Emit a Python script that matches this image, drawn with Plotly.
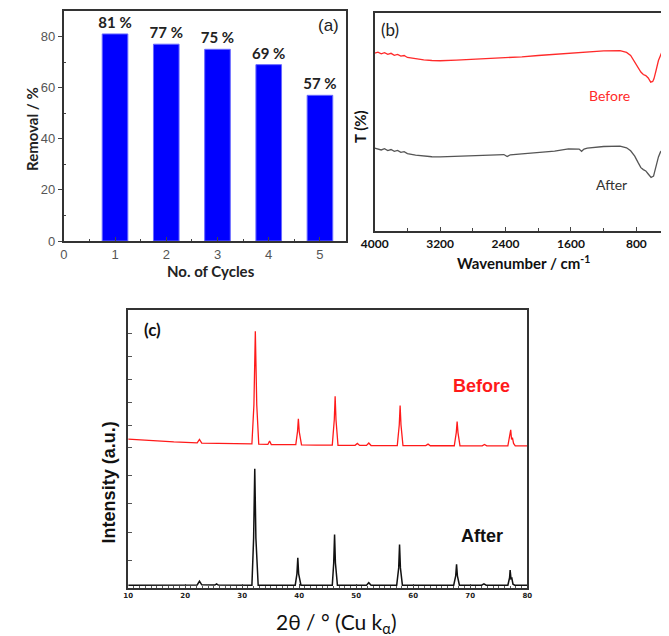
import plotly.graph_objects as go

# (a) recycling
cycles = [1, 2, 3, 4, 5]
removal = [81, 77, 75, 69, 57]

# (b) FTIR, wavenumber / T (%)
ftir_w_before = [4000, 3960, 3920, 3880, 3840, 3800, 3760, 3720, 3680, 3640, 3600, 3500, 3400, 3300, 3200,
                 3000, 2800, 2600, 2400, 2200, 2000, 1800, 1600, 1400, 1200, 1000, 920, 870, 820, 780, 745,
                 715, 685, 655, 625, 600, 585, 560, 530, 505, 490, 480, 470, 460, 450, 440, 425, 410, 400]
ftir_t_before = [81.6, 82.0, 81.3, 81.8, 81.0, 81.5, 80.6, 81.0, 80.2, 80.5, 79.6, 78.9, 78.5, 78.2, 78.1,
                 78.4, 78.7, 79.1, 79.3, 79.9, 80.5, 81.0, 81.4, 82.0, 82.6, 82.7, 81.9, 80.5, 77.4, 75.0, 72.9,
                 71.8, 71.3, 70.2, 68.3, 68.6, 69.8, 73.5, 78.2, 80.5, 81.9, 81.0, 76.0, 73.5, 72.0, 71.5, 68.5, 66.0, 66.5]
ftir_w_after = [4000, 3960, 3920, 3880, 3840, 3800, 3760, 3720, 3680, 3640, 3600, 3500, 3400, 3300, 3200,
                3000, 2800, 2600, 2420, 2380, 2340, 2200, 2000, 1800, 1630, 1500, 1470, 1440, 1400, 1200, 1000,
                920, 870, 820, 780, 745, 715, 685, 655, 620, 590, 560, 530, 505, 490, 475, 460, 445, 430, 415, 400]
ftir_t_after = [38.1, 37.6, 37.2, 37.8, 36.9, 37.4, 36.6, 37.0, 36.1, 36.4, 35.5, 34.8, 34.4, 34.1, 34.0,
                34.3, 34.5, 34.8, 35.1, 34.2, 35.0, 35.4, 36.0, 36.7, 37.7, 37.6, 36.6, 37.6, 38.0, 38.8, 39.0,
                38.2, 36.8, 34.4, 31.5, 29.1, 28.2, 27.6, 26.2, 24.6, 25.2, 29.9, 34.0, 36.3, 36.9, 35.5, 32.0, 30.0, 27.5, 24.0, 24.5]

# (c) XRD, 2theta / intensity (a.u.)
xrd_x_before = [10, 14, 18, 22.1, 22.5, 22.9, 26, 30, 31.7, 32.05, 32.3, 32.55, 32.9, 34.5, 34.8, 35.1,
                39.4, 39.7, 39.85, 40.0, 40.4, 43.0, 45.8, 46.15, 46.3, 46.45, 46.8, 49.8, 50.2, 50.6,
                51.8, 52.2, 52.6, 57.2, 57.55, 57.7, 57.85, 58.2, 62.2, 62.6, 63.0, 67.2, 67.55, 67.7,
                67.85, 68.2, 72.1, 72.5, 72.9, 76.6, 76.95, 77.1, 77.25, 77.4, 77.6, 77.9, 80]
xrd_y_before = [150.3, 148.8, 147.5, 146.6, 150.0, 146.4, 145.9, 145.4, 145.5, 185.0, 259.7, 185.0, 145.3, 145.0, 148.5, 144.9,
                144.8, 158.0, 171.0, 158.0, 144.6, 144.4, 144.3, 170.0, 193.7, 170.0, 144.2, 144.1, 146.0, 144.0,
                144.0, 146.5, 143.9, 143.9, 165.0, 184.3, 165.0, 143.8, 143.8, 145.3, 143.7, 143.7, 157.0, 168.3,
                157.0, 143.6, 143.6, 145.0, 143.6, 143.5, 153.0, 159.7, 150.0, 152.0, 146.0, 143.5, 143.5]
xrd_x_after = [10, 14, 18, 22.1, 22.5, 22.9, 25.2, 25.5, 25.8, 30, 31.7, 32.0, 32.2, 32.4, 32.8,
               39.3, 39.6, 39.75, 39.9, 40.3, 45.8, 46.05, 46.2, 46.35, 46.7, 51.8, 52.2, 52.6,
               57.1, 57.45, 57.6, 57.75, 58.1, 67.1, 67.45, 67.6, 67.75, 68.1, 72.0, 72.4, 72.8,
               76.6, 76.9, 77.0, 77.15, 77.3, 77.5, 77.8, 80]
xrd_y_after = [2.5, 2.8, 2.6, 2.8, 6.5, 2.8, 2.6, 3.8, 2.6, 2.5, 2.5, 50.0, 120.3, 50.0, 2.5,
               2.5, 14.0, 30.3, 14.0, 2.5, 2.5, 25.0, 53.7, 25.0, 2.5, 2.5, 5.0, 2.5,
               2.5, 20.0, 43.7, 20.0, 2.5, 2.5, 12.0, 23.7, 12.0, 2.5, 2.5, 3.8, 2.5,
               2.5, 10.0, 17.7, 9.0, 9.5, 3.5, 2.5, 2.5]
xrd_ticks_y = [0, 27.7, 56, 84.7, 113.7, 141.7, 164.3, 187.7, 211, 234.3, 257]

fig = go.Figure()

fig.add_trace(go.Bar(x=cycles, y=removal, width=0.5, marker=dict(color="#0000ff", line=dict(color="#6a6aff", width=1)),
                     text=[f"{v} %" for v in removal], textposition="outside", cliponaxis=False,
                     constraintext="none",
                     textfont=dict(family="Lato", size=15, color="#222", weight="bold"), xaxis="x", yaxis="y"))

fig.add_trace(go.Scatter(x=ftir_w_before, y=ftir_t_before, mode="lines", line=dict(color="#ff2a2a", width=1.3),
                         xaxis="x2", yaxis="y2"))
fig.add_trace(go.Scatter(x=ftir_w_after, y=ftir_t_after, mode="lines", line=dict(color="#555555", width=1.3),
                         xaxis="x2", yaxis="y2"))

fig.add_trace(go.Scatter(x=xrd_x_before, y=xrd_y_before, mode="lines", line=dict(color="#ff1a1a", width=1.3),
                         xaxis="x3", yaxis="y3"))
fig.add_trace(go.Scatter(x=xrd_x_after, y=xrd_y_after, mode="lines", line=dict(color="#111111", width=1.5),
                         xaxis="x3", yaxis="y3"))

box = dict(showline=True, linecolor="#333", linewidth=2, mirror=True, showgrid=False, zeroline=False)

fig.update_layout(
    width=669, height=636, margin=dict(l=0, r=0, t=0, b=0),
    paper_bgcolor="white", plot_bgcolor="white", showlegend=False,
    font=dict(family="Liberation Sans", color="#444"),
    xaxis=dict(domain=[0.0643, 0.4978], anchor="y", range=[0, 5.5], tickvals=[0, 1, 2, 3, 4, 5],
               ticks="inside", ticklen=4, tickfont=dict(size=13, color="#555"),
               minor=dict(tickvals=[0.5, 1.5, 2.5, 3.5, 4.5], ticks="inside", ticklen=2), **box),
    yaxis=dict(domain=[0.6289, 0.9953], anchor="x", range=[0, 90], tickvals=[0, 20, 40, 60, 80],
               ticks="outside", ticklen=4, tickfont=dict(size=13, color="#555"),
               minor=dict(tickvals=[10, 30, 50, 70], ticks="inside", ticklen=2), **box),
    xaxis2=dict(domain=[0.5426, 0.9955], anchor="y2", range=[4000, 400], tickvals=[4000, 3200, 2400, 1600, 800],
                ticks="inside", ticklen=4, tickfont=dict(family="Lato", size=12, color="#111", weight="bold"),
                minor=dict(tickvals=[3600, 2800, 2000, 1200], ticks="inside", ticklen=3), **box),
    yaxis2=dict(domain=[0.6447, 0.9921], anchor="x2", range=[0, 100], showticklabels=False, ticks="", **box),
    xaxis3=dict(domain=[0.1634, 0.7773], anchor="y3", range=[10, 80], tickvals=list(range(10, 90, 10)),
                ticks="inside", ticklen=4, tickfont=dict(family="DejaVu Sans", size=7, color="#222", weight="bold"),
                minor=dict(dtick=1, ticks="inside", ticklen=2, tickcolor="#555"), **box),
    yaxis3=dict(domain=[0.0770, 0.5189], anchor="x3", range=[0, 281], tickvals=xrd_ticks_y, showticklabels=False,
                ticks="inside", ticklen=4, tickcolor="#555", **box),
)

ann = [
    ("Removal / %", 0.015, 0.807, 15, "#222", -90, "Lato", "bold"),
    ("No. of Cycles", 0.2907, 0.5807, 15, "#222", 0, "Lato", "bold"),
    ("(a)", 0.472, 0.972, 17, "#222", 0, "Liberation Sans", "normal"),
    ("(b)", 0.5665, 0.966, 17, "#222", 0, "Lato", "normal"),
    ("T (%)", 0.519, 0.811, 15, "#111", -90, "Lato", "bold"),
    ("Wavenumber / cm<sup>-1</sup>", 0.772, 0.594, 15, "#111", 0, "Lato", "bold"),
    ("Before", 0.904, 0.861, 14, "#ff2a2a", 0, "Lato", "normal"),
    ("After", 0.907, 0.7196, 14, "#333", 0, "Lato", "normal"),
    ("(c)", 0.2003, 0.4874, 17, "#111", 0, "Lato", "bold"),
    ("Before", 0.7075, 0.3973, 18, "#ff1a1a", 0, "Liberation Sans", "bold"),
    ("After", 0.7075, 0.1588, 18, "#111", 0, "Liberation Sans", "bold"),
    ("Intensity (a.u.)", 0.1345, 0.2453, 18, "#111", -90, "Liberation Sans", "bold"),
    ("2θ / ° (Cu k<sub>α</sub>)", 0.4833, 0.021, 21, "#111", 0, "Lato", "normal"),
]
for t, x, y, s, c, a, fam, w in ann:
    fig.add_annotation(text=t, x=x, y=y, xref="paper", yref="paper", showarrow=False, textangle=a,
                       xanchor="center", yanchor="middle", font=dict(family=fam, size=s, color=c, weight=w))

fig.write_html("out.html")
